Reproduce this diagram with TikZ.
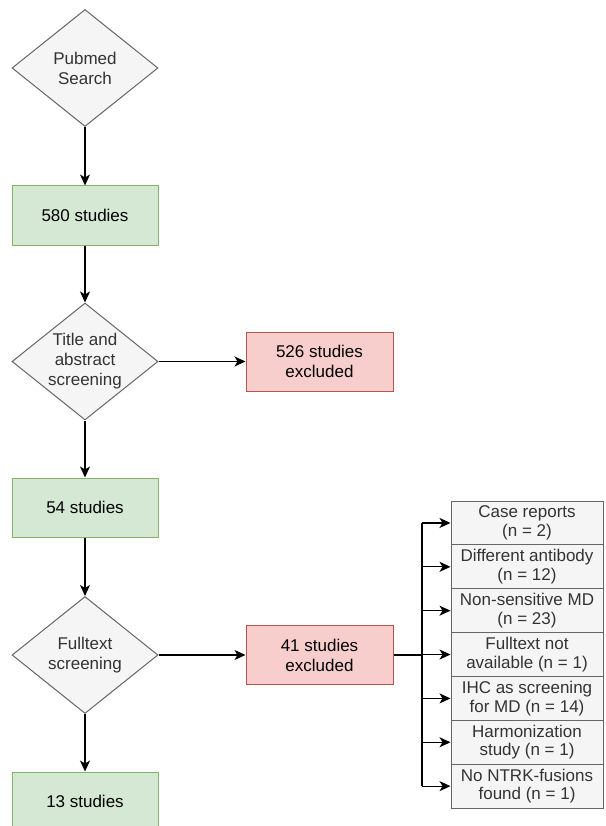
\documentclass[tikz,border=0pt]{standalone}
\usepackage{fontspec}
\setmainfont{Liberation Sans}
\usetikzlibrary{shapes.geometric,arrows.meta}

\definecolor{greyfill}{HTML}{F5F5F5}
\definecolor{greydraw}{HTML}{666666}
\definecolor{greytext}{HTML}{333333}
\definecolor{greenfill}{HTML}{D5E8D4}
\definecolor{greendraw}{HTML}{82B366}
\definecolor{redfill}{HTML}{F8CECC}
\definecolor{reddraw}{HTML}{B85450}

\tikzset{
  base/.style={font=\fontsize{17}{20}\selectfont, align=center, line width=1pt, inner sep=0pt},
  decision/.style={base, diamond, aspect=1.25, draw=greydraw, fill=greyfill, text=greytext,
    minimum width=146pt, minimum height=117pt},
  included/.style={base, rectangle, draw=greendraw, fill=greenfill, minimum width=146pt, minimum height=59pt},
  excluded/.style={base, rectangle, draw=reddraw, fill=redfill, minimum width=147pt, minimum height=59pt},
  reason/.style={base, rectangle, draw=greydraw, fill=greyfill, text=greytext,
    minimum width=152pt, minimum height=43.86pt, font=\fontsize{17}{18.5}\selectfont},
  flow/.style={-{Stealth[length=11pt,width=10pt,inset=3pt]}, line width=1.2pt},
}

\begin{document}
\begin{tikzpicture}[x=1pt,y=-1pt]
  \useasboundingbox (0,0) rectangle (605,826);

  % main column
  \node[decision] (search) at (85,68)    {Pubmed\\Search};
  \node[included] (s580)   at (85,215.5) {580 studies};
  \node[decision] (title)  at (85,361.5) {Title and\\abstract\\screening};
  \node[included] (s54)    at (85,507.5) {54 studies};
  \node[decision] (full)   at (85,655)   {Fulltext\\screening};
  \node[included] (s13)    at (85,801.5) {13 studies};

  % exclusions
  \node[excluded] (ex526) at (319.5,361.5) {526 studies\\excluded};
  \node[excluded] (ex41)  at (319.5,655)   {41 studies\\excluded};

  % reasons for exclusion
  \foreach \txt [count=\i] in {{Case reports\\(n = 2)}, {Different antibody\\(n = 12)},
      {Non-sensitive MD\\(n = 23)}, {Fulltext not\\available (n = 1)},
      {IHC as screening\\for MD (n = 14)}, {Harmonization\\study (n = 1)},
      {No NTRK-fusions\\found (n = 1)}}
    \node[reason] (r\i) at (527,479.1+43.86*\i) {\txt};

  \draw[flow] (search) -- (s580);
  \draw[flow] (s580) -- (title);
  \draw[flow] (title) -- (s54);
  \draw[flow] (s54) -- (full);
  \draw[flow] (full) -- (s13);
  \draw[flow] (title) -- (ex526);
  \draw[flow] (full) -- (ex41);

  \coordinate (bus) at (422,655);
  \draw[line width=1.2pt] (ex41.east) -- (bus);
  \draw[line width=1.2pt] (bus |- r1.west) -- (bus |- r7.west);
  \foreach \i in {1,...,7}
    \draw[flow] (bus |- r\i.west) -- (r\i.west);
\end{tikzpicture}
\end{document}
